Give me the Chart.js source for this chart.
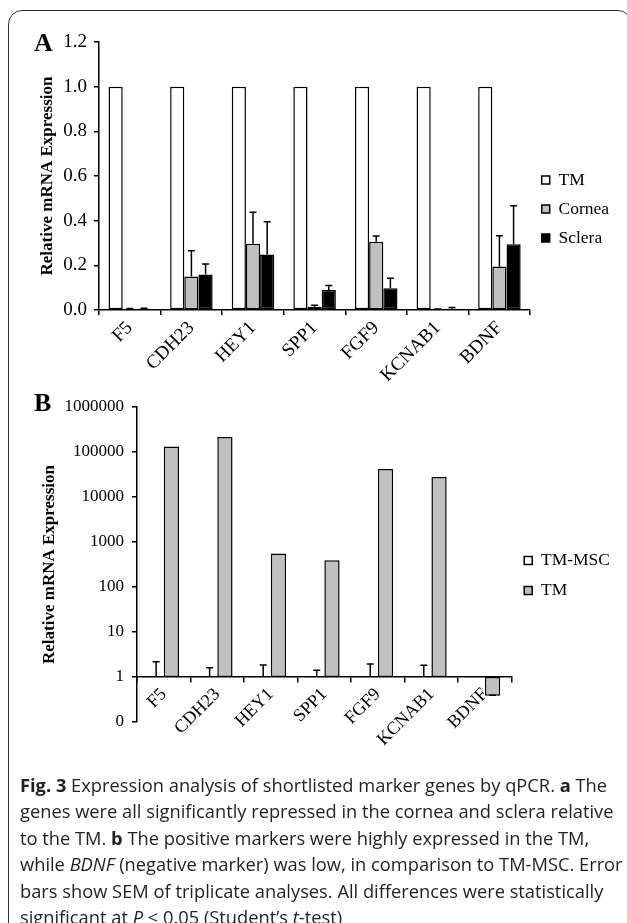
<!DOCTYPE html>
<html lang="en">
<head>
<meta charset="UTF-8">
<title>Fig. 3 marker gene expression</title>
<script src="https://cdn.jsdelivr.net/npm/chart.js"></script>
<style>
  html, body { margin: 0; padding: 0; background: #fff; }
  #page { position: relative; width: 627px; height: 923px; overflow: hidden; }
  #frame { position: absolute; left: 8px; top: 10px; width: 622px; height: 960px;
           border: 1.5px solid #333; border-radius: 14px; }
  canvas { position: absolute; left: 0; }
  #chartA { top: 0; }
  #chartB { top: 380px; }
  .panel { position: absolute; font-family: 'Liberation Serif', serif; font-weight: bold;
           font-size: 26px; line-height: 1; color: #000; }
  #caption { position: absolute; left: 20px; top: 772px; font-family: 'Open Sans', sans-serif;
             font-size: 18.3px; line-height: 26.4px; color: #231f20; white-space: nowrap; }
</style>
</head>
<body>
<div id="page">
  <div id="frame"></div>
  <canvas id="chartA" width="627" height="395"></canvas>
  <canvas id="chartB" width="627" height="400"></canvas>
  <div class="panel" style="left:34px; top:30px;">A</div>
  <div class="panel" style="left:34px; top:390px;">B</div>
  <div id="caption">
    <div><b>Fig. 3</b> Expression analysis of shortlisted marker genes by qPCR. <b>a</b> The</div>
    <div>genes were all significantly repressed in the cornea and sclera relative</div>
    <div>to the TM. <b>b</b> The positive markers were highly expressed in the TM,</div>
    <div>while <i>BDNF</i> (negative marker) was low, in comparison to TM-MSC. Error</div>
    <div>bars show SEM of triplicate analyses. All differences were statistically</div>
    <div>significant at <i>P</i> &lt; 0.05 (Student’s <i>t</i>-test)</div>
  </div>
</div>

<script>
// genes on both panels
const genes = ['F5', 'CDH23', 'HEY1', 'SPP1', 'FGF9', 'KCNAB1', 'BDNF'];

// panel A: relative to TM
const tmA = [1, 1, 1, 1, 1, 1, 1];
const corneaA = [0.005, 0.150, 0.297, 0.015, 0.306, 0.003, 0.195];
const scleraA = [0.006, 0.159, 0.248, 0.089, 0.097, 0.006, 0.294];
const corneaErrA = [0.002, 0.115, 0.141, 0.006, 0.025, 0.001, 0.138];
const scleraErrA = [0.002, 0.047, 0.147, 0.021, 0.045, 0.005, 0.173];
const ticksA = [0, 0.2, 0.4, 0.6, 0.8, 1.0, 1.2];

// panel B: relative to TM-MSC (log axis)
const tmMscB = [1.04, 1.04, 1.04, 1.04, 1.04, 1.04, 1.04];
const tmMscErrB = [1.15, 0.57, 0.81, 0.37, 0.91, 0.78, 0];
const tmB = [132000, 215000, 552, 392, 41900, 27800, 0.385];
const tmErrB = [0, 0, 0, 0, 0, 0, 0.01];
const ticksB = [0.1, 1, 10, 100, 1000, 10000, 100000, 1000000];
const tickLabelsB = ['0', '1', '10', '100', '1000', '10000', '100000', '1000000'];

const serif = 'Liberation Serif';

// plus-only error bars, drawn over the bars
const errorBars = {
  id: 'errorBars',
  afterDatasetsDraw(chart) {
    const ctx = chart.ctx;
    const yScale = chart.scales.y;
    chart.data.datasets.forEach((ds, i) => {
      if (!ds.errors) return;
      const meta = chart.getDatasetMeta(i);
      meta.data.forEach((bar, j) => {
        const err = ds.errors[j];
        if (!err) return;
        const d = ds.data[j];
        const v = Array.isArray(d) ? d[1] : d;
        const y0 = yScale.getPixelForValue(v);
        const y1 = yScale.getPixelForValue(v + err);
        ctx.save();
        ctx.strokeStyle = '#000';
        ctx.lineWidth = 1.5;
        ctx.beginPath();
        ctx.moveTo(bar.x, y0);
        ctx.lineTo(bar.x, y1);
        ctx.moveTo(bar.x - 3.5, y1);
        ctx.lineTo(bar.x + 3.5, y1);
        ctx.stroke();
        ctx.restore();
      });
    });
  }
};

// move the legend block up/down after layout
const nudgeLegend = {
  id: 'nudgeLegend',
  afterLayout(chart, args, opts) {
    if (chart.legend && opts.dy) {
      chart.legend.top += opts.dy;
      chart.legend.bottom += opts.dy;
    }
  }
};

function barStyle(fill) {
  return { backgroundColor: fill, borderColor: '#000', borderWidth: 1.5, borderSkipped: false };
}

function legendOpts(padding) {
  return {
    position: 'right',
    align: 'center',
    labels: {
      boxWidth: 8, boxHeight: 8, padding: padding, color: '#000',
      font: { family: serif, size: 17.5 }
    }
  };
}

const axisLine = { color: '#000', width: 1.5 };
const tickGrid = { drawOnChartArea: false, tickLength: 5, color: '#000', lineWidth: 1.5 };

// Panel A
new Chart(document.getElementById('chartA'), {
  type: 'bar',
  data: {
    labels: genes,
    datasets: [
      { label: 'TM', data: tmA, ...barStyle('#ffffff') },
      { label: 'Cornea', data: corneaA, errors: corneaErrA, ...barStyle('#c0c0c0') },
      { label: 'Sclera', data: scleraA, errors: scleraErrA, ...barStyle('#000000') }
    ]
  },
  options: {
    responsive: false,
    animation: false,
    devicePixelRatio: 1,
    categoryPercentage: 0.69,
    barPercentage: 1,
    layout: { padding: { top: 42, bottom: 5, left: 0, right: 8 } },
    plugins: {
      legend: legendOpts(11.5),
      tooltip: { enabled: false },
      nudgeLegend: { dy: -7 }
    },
    scales: {
      x: {
        ticks: { color: '#000', font: { family: serif, size: 19 }, minRotation: 45, maxRotation: 45, autoSkip: false, padding: 2 },
        grid: { ...tickGrid, offset: true },
        border: axisLine,
        afterFit(s) { s.height = 80; }
      },
      y: {
        min: 0,
        max: 1.2,
        afterBuildTicks(s) { s.ticks = ticksA.map(v => ({ value: v })); },
        ticks: { color: '#000', font: { family: serif, size: 19 }, padding: 7, callback: v => v.toFixed(1) },
        grid: tickGrid,
        border: axisLine,
        title: {
          display: true, text: 'Relative mRNA Expression', color: '#000',
          font: { family: serif, size: 17, weight: 'bold' }, padding: { top: 37, bottom: 0 }
        },
        afterFit(s) { s.width = 99; }
      }
    }
  },
  plugins: [errorBars, nudgeLegend]
});

// Panel B
new Chart(document.getElementById('chartB'), {
  type: 'bar',
  data: {
    labels: genes,
    datasets: [
      { label: 'TM-MSC', data: tmMscB.map(v => [1, v]), errors: tmMscErrB, ...barStyle('#ffffff') },
      { label: 'TM', data: tmB.map(v => [1, v]), errors: tmErrB, ...barStyle('#c0c0c0') }
    ]
  },
  options: {
    responsive: false,
    animation: false,
    devicePixelRatio: 1,
    categoryPercentage: 0.57,
    barPercentage: 1,
    layout: { padding: { top: 27, bottom: 58, left: 0, right: 7 } },
    plugins: {
      legend: legendOpts(12.5),
      tooltip: { enabled: false },
      nudgeLegend: { dy: 11 }
    },
    scales: {
      x: {
        position: { y: 1 },
        ticks: { color: '#000', font: { family: serif, size: 18 }, minRotation: 45, maxRotation: 45, autoSkip: false, padding: 2 },
        grid: { ...tickGrid, offset: true },
        border: axisLine
      },
      y: {
        type: 'logarithmic',
        min: 0.1,
        max: 1000000,
        afterBuildTicks(s) { s.ticks = ticksB.map(v => ({ value: v })); },
        ticks: {
          color: '#000', font: { family: serif, size: 17 }, padding: 8,
          callback: (v) => tickLabelsB[ticksB.indexOf(v)]
        },
        grid: tickGrid,
        border: axisLine,
        title: {
          display: true, text: 'Relative mRNA Expression', color: '#000',
          font: { family: serif, size: 17, weight: 'bold' }, padding: { top: 39, bottom: 0 }
        },
        afterFit(s) { s.width = 137; }
      }
    }
  },
  plugins: [errorBars, nudgeLegend]
});
</script>
</body>
</html>
